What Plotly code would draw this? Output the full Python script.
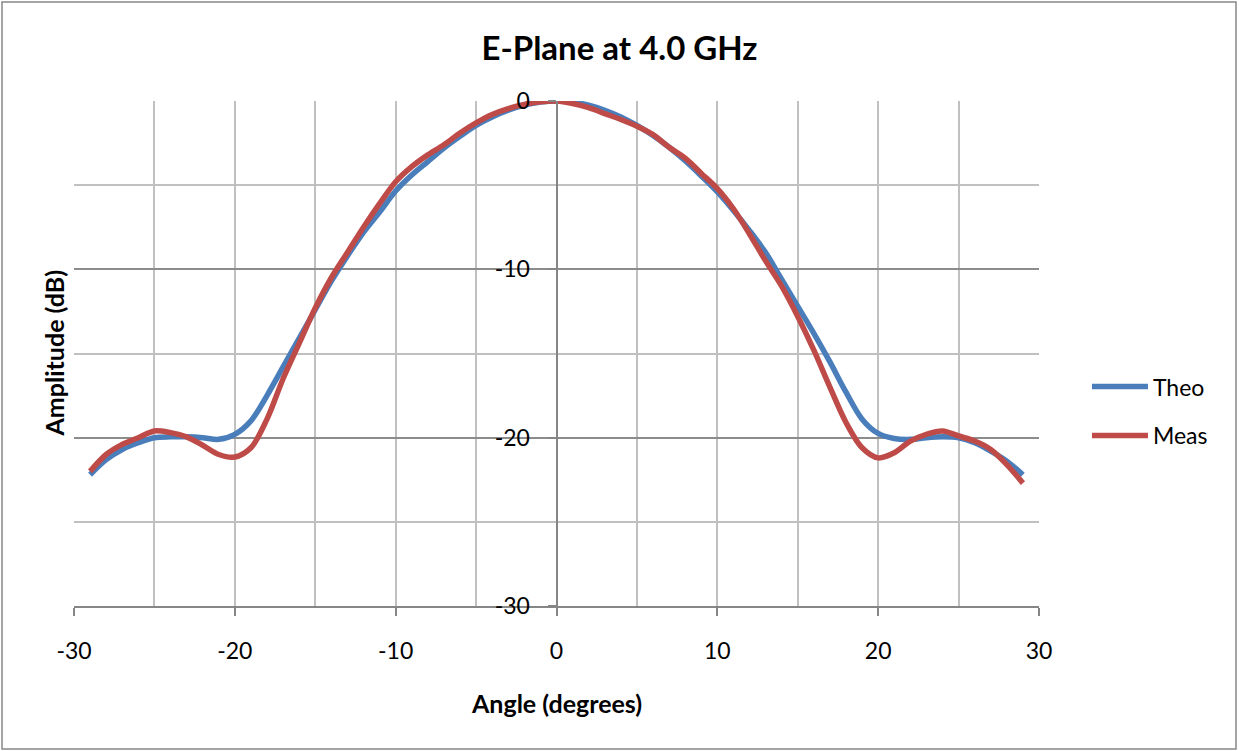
import plotly.graph_objects as go

angles = list(range(-29, 30))

theo = [-22.2, -21.3, -20.7, -20.3, -20.0, -19.95, -19.95, -20.0, -20.1, -19.8,
        -19.0, -17.5, -15.8, -14.1, -12.4, -10.7, -9.2, -7.8, -6.6, -5.35,
        -4.4, -3.6, -2.8, -2.1, -1.45, -0.95, -0.55, -0.25, -0.06, 0.0,
        -0.06, -0.25, -0.55, -0.95, -1.45, -2.05, -2.75, -3.55, -4.45, -5.4,
        -6.5, -7.7, -9.0, -10.6, -12.2, -13.8, -15.5, -17.3, -18.9, -19.75,
        -20.05, -20.1, -20.0, -19.95, -20.0, -20.3, -20.8, -21.4, -22.2]

meas = [-22.0, -21.0, -20.4, -20.0, -19.6, -19.7, -19.95, -20.45, -21.0, -21.15,
        -20.6, -18.9, -16.5, -14.4, -12.3, -10.5, -9.0, -7.5, -6.1, -4.8,
        -3.9, -3.2, -2.6, -1.9, -1.3, -0.8, -0.45, -0.2, -0.05, 0.0,
        -0.15, -0.4, -0.75, -1.1, -1.5, -2.0, -2.75, -3.4, -4.3, -5.2,
        -6.4, -7.9, -9.5, -11.0, -12.8, -14.8, -17.0, -19.1, -20.6, -21.2,
        -20.9, -20.2, -19.8, -19.6, -19.9, -20.2, -20.7, -21.6, -22.7]

x_ticks = [-30, -20, -10, 0, 10, 20, 30]
y_ticks = [-30, -20, -10, 0]

FONT = "Lato"
AX = "#868686"
GRID_DARK = "#8c8c8c"
GRID_LIGHT = "#c0c0c0"

fig = go.Figure()
fig.add_trace(go.Scatter(x=angles, y=theo, name="Theo", mode="lines",
                         line=dict(color="#4A7EBB", width=5.5, shape="spline", smoothing=0.9),
                         legendgroup="a"))
fig.add_trace(go.Scatter(x=angles, y=meas, name="Meas", mode="lines",
                         line=dict(color="#BE4B48", width=5.5, shape="spline", smoothing=0.9),
                         legendgroup="b"))

fig.update_layout(
    width=1239, height=751,
    margin=dict(l=74, r=200, t=101, b=145),
    paper_bgcolor="white", plot_bgcolor="white",
    font=dict(family=FONT, size=23, color="black"),
    title=dict(text="<b>E-Plane at 4.0 GHz</b>", font=dict(family=FONT, size=33, color="black"),
               x=0.5, xref="container", xanchor="center",
               y=1 - 48 / 751, yref="container", yanchor="middle"),
    showlegend=True,
    legend=dict(x=1.0497, y=0.386, xanchor="left", yanchor="middle",
                font=dict(family=FONT, size=23), traceorder="grouped",
                tracegroupgap=16, itemwidth=56, bgcolor="rgba(0,0,0,0)"),
    xaxis=dict(range=[-30, 30], tickmode="array", tickvals=x_ticks,
               ticktext=[str(v) for v in x_ticks],
               showgrid=True, gridcolor=GRID_LIGHT, gridwidth=2,
               minor=dict(dtick=5, tick0=-30, showgrid=True, gridcolor=GRID_LIGHT, gridwidth=2, ticks=""),
               showline=True, linecolor=AX, linewidth=2,
               ticks="outside", ticklen=8, tickwidth=2, tickcolor=AX,
               ticklabelstandoff=15, zeroline=False, automargin=False,
               tickfont=dict(family=FONT, size=23)),
    yaxis=dict(range=[-30, 0], tickmode="array", tickvals=y_ticks,
               ticktext=[str(v) for v in y_ticks],
               showgrid=True, gridcolor=GRID_DARK, gridwidth=2,
               minor=dict(dtick=5, tick0=0, showgrid=True, gridcolor=GRID_LIGHT, gridwidth=2, ticks=""),
               anchor="free", position=0.5,
               showline=True, linecolor=AX, linewidth=2,
               ticks="outside", ticklen=8, tickwidth=2, tickcolor=AX,
               ticklabelstandoff=13, zeroline=False, automargin=False,
               tickfont=dict(family=FONT, size=23)),
    annotations=[
        dict(text="<b>Angle (degrees)</b>", xref="paper", yref="paper", x=0.5, y=(606 - 703) / 505,
             xanchor="center", yanchor="middle", showarrow=False, font=dict(family=FONT, size=25)),
        dict(text="<b>Amplitude (dB)</b>", xref="paper", yref="paper", x=(53 - 74) / 965, y=0.5,
             xanchor="center", yanchor="middle", textangle=-90, showarrow=False,
             font=dict(family=FONT, size=25)),
    ],
    shapes=[
        dict(type="rect", xref="paper", yref="paper",
             x0=(2 - 74) / 965, x1=(1236 - 74) / 965,
             y0=(606 - 749) / 505, y1=1 + (101 - 2) / 505,
             line=dict(color="#888888", width=1.5), fillcolor="rgba(0,0,0,0)", layer="below"),
    ],
)

fig.write_html("out.html", config={"displayModeBar": False},
               post_script="document.body.style.margin='0';document.body.style.padding='0';")
